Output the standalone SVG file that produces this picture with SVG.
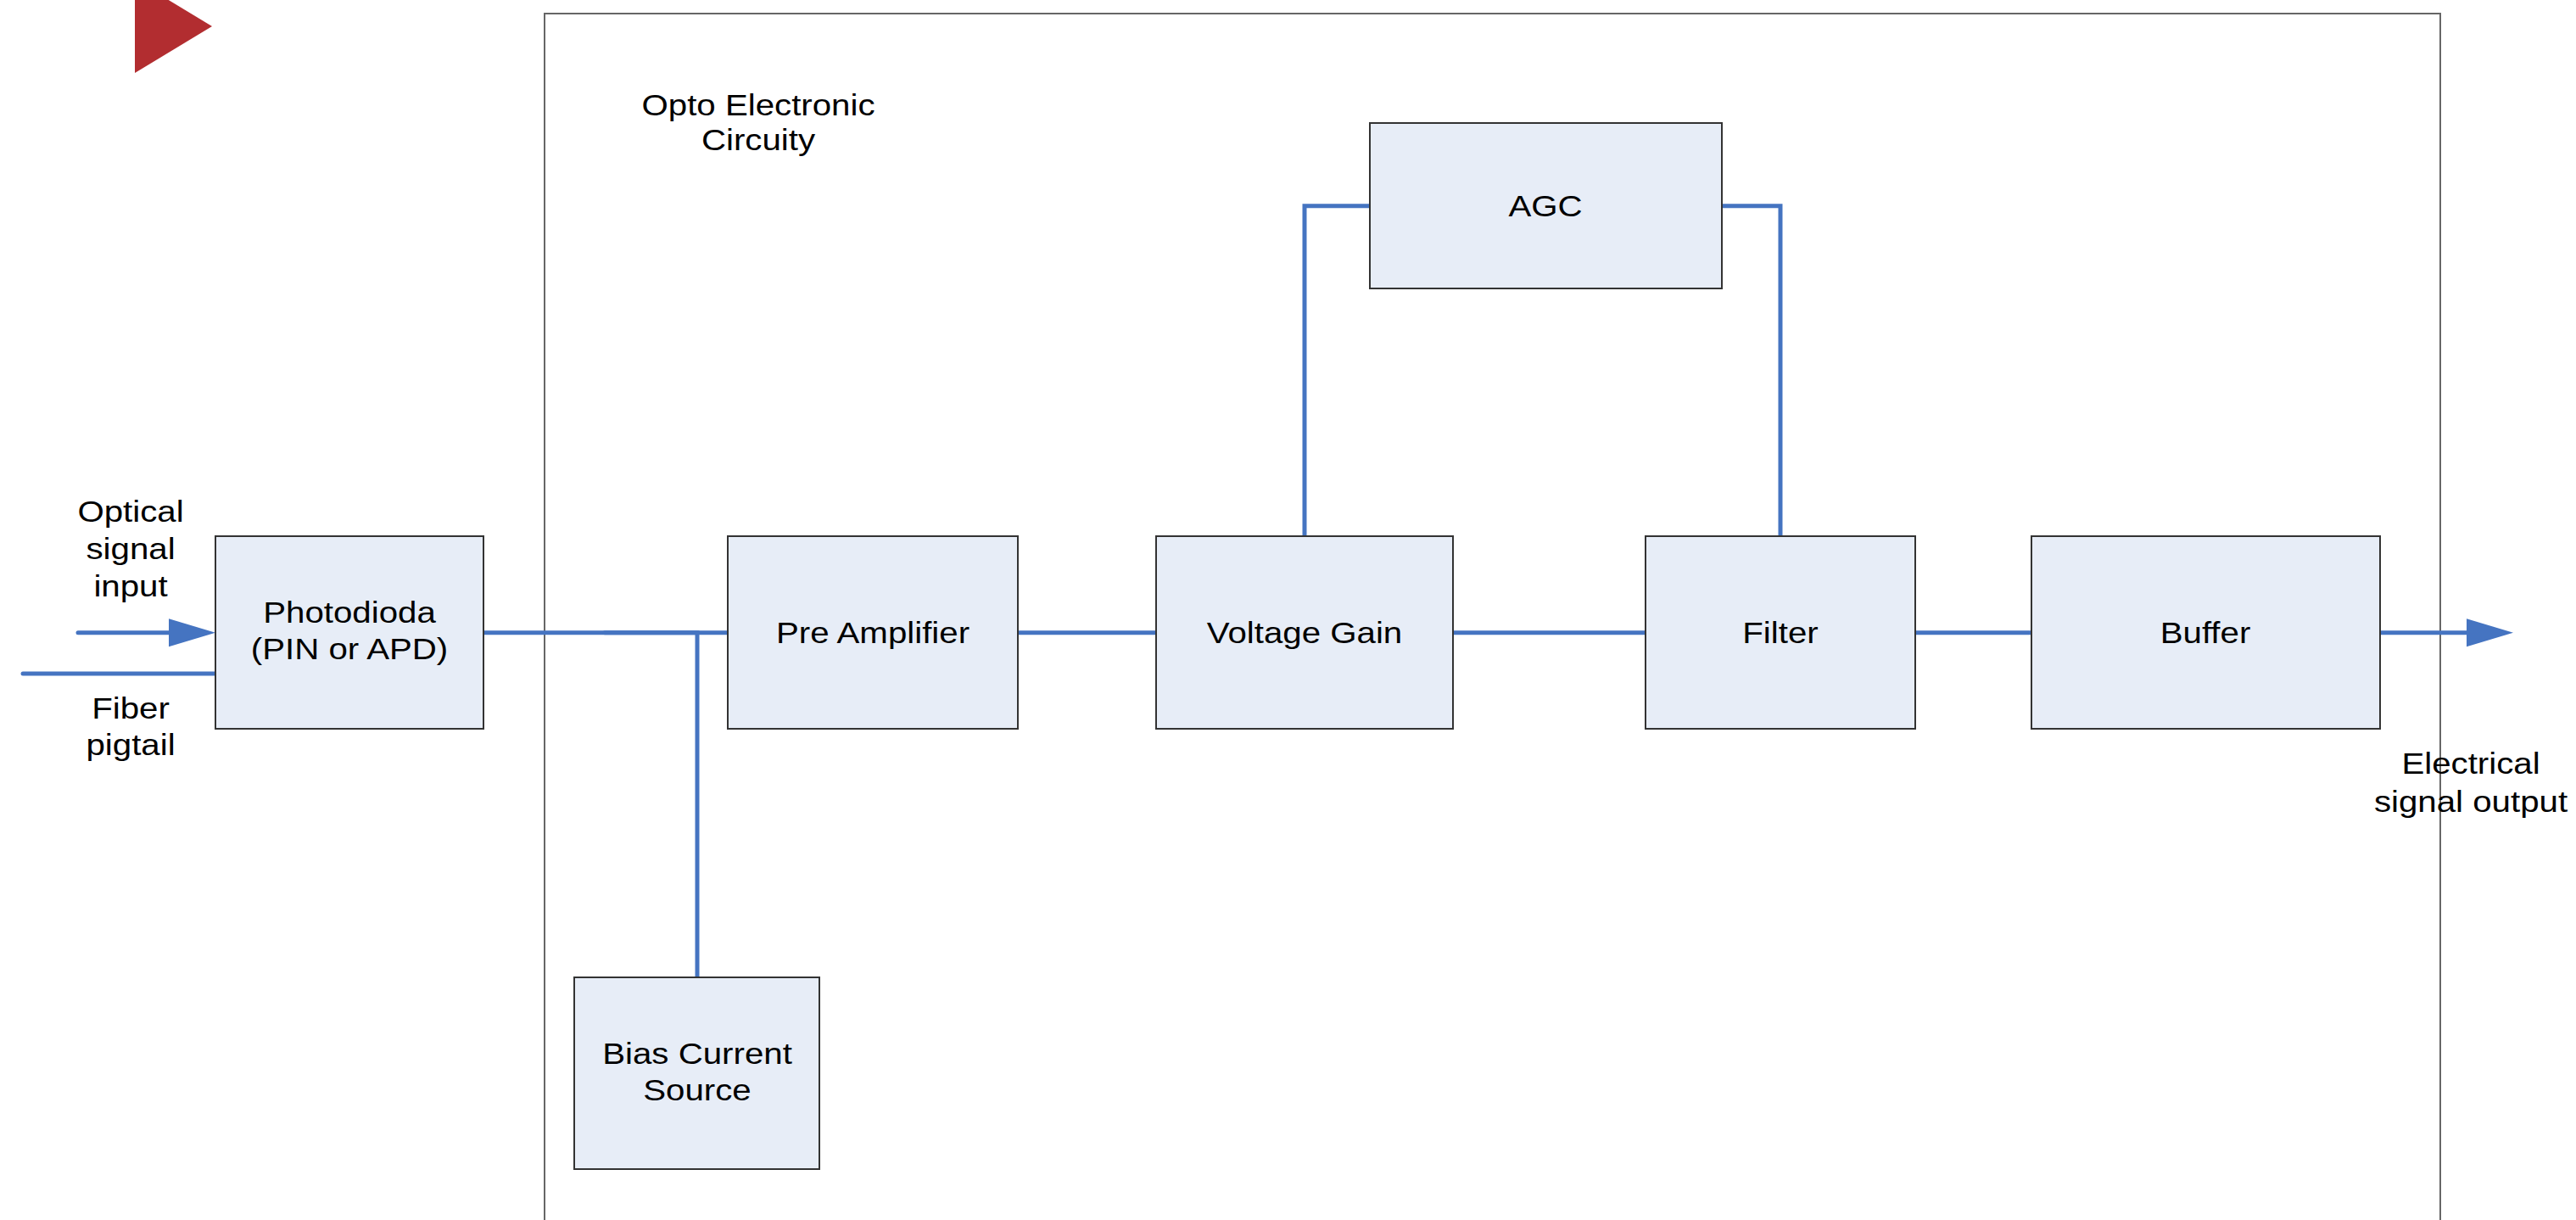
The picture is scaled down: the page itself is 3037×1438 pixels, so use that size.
<svg xmlns="http://www.w3.org/2000/svg" width="3037" height="1438" viewBox="0 0 3037 1438">
<style>
.box{fill:#E7EDF7;stroke:#333333;stroke-width:2}
.frame{fill:none;stroke:#666666;stroke-width:2}
.conn{fill:none;stroke:#4574C1;stroke-width:5;stroke-linecap:round;stroke-linejoin:miter}
.t{font-family:"Liberation Sans",Arial,sans-serif;font-size:35px;fill:#000000;text-anchor:middle}
</style>
<defs>
<marker id="arr" markerUnits="userSpaceOnUse" markerWidth="56" markerHeight="34" refX="2" refY="16.5" orient="auto" viewBox="0 0 56 34">
<path d="M0,0 L55,16.5 L0,33 Z" fill="#4574C1"/>
</marker>
</defs>
<rect x="0" y="0" width="3037" height="1438" fill="#FFFFFF"/>
<polygon points="159,-24 250,31 159,86" fill="#B22D30"/>
<g id="frame">
<rect class="frame" x="642" y="16" width="2235" height="1500"/>
<text class="t" transform="translate(894,136) scale(1.15,1)"><tspan x="0" y="0">Opto Electronic</tspan><tspan x="0" y="41">Circuity</tspan></text>
</g>
<g id="connectors">
<line class="conn" x1="92" y1="745.7" x2="201" y2="745.7" marker-end="url(#arr)"/>
<line class="conn" x1="27" y1="794" x2="257" y2="794"/>
<line class="conn" x1="570" y1="745.7" x2="858" y2="745.7"/>
<path class="conn" d="M713,745.7 H822 V1152"/>
<line class="conn" x1="1200" y1="745.7" x2="1363" y2="745.7"/>
<path class="conn" d="M1538,632 V242.7 H1615"/>
<path class="conn" d="M2030,242.7 H2099 V632"/>
<line class="conn" x1="1712" y1="745.7" x2="1940" y2="745.7"/>
<line class="conn" x1="2258" y1="745.7" x2="2395" y2="745.7"/>
<line class="conn" x1="2806" y1="745.7" x2="2910" y2="745.7" marker-end="url(#arr)"/>
</g>
<g id="label-optical-input">
<text class="t" transform="translate(154,615) scale(1.15,1)"><tspan x="0" y="0">Optical</tspan><tspan x="0" y="44">signal</tspan><tspan x="0" y="88">input</tspan></text>
</g>
<g id="label-fiber">
<text class="t" transform="translate(154,847) scale(1.15,1)"><tspan x="0" y="0">Fiber</tspan><tspan x="0" y="43">pigtail</tspan></text>
</g>
<g id="label-electrical-output">
<text class="t" transform="translate(2913,912) scale(1.15,1)"><tspan x="0" y="0">Electrical</tspan><tspan x="0" y="45">signal output</tspan></text>
</g>
<g id="photodioda">
<rect class="box" x="254" y="632" width="316" height="227"/>
<text class="t" transform="translate(412,734) scale(1.15,1)"><tspan x="0" y="0">Photodioda</tspan><tspan x="0" y="43">(PIN or APD)</tspan></text>
</g>
<g id="pre-amplifier">
<rect class="box" x="858" y="632" width="342" height="227"/>
<text class="t" transform="translate(1029,758) scale(1.15,1)">Pre Amplifier</text>
</g>
<g id="voltage-gain">
<rect class="box" x="1363" y="632" width="350" height="227"/>
<text class="t" transform="translate(1538,758) scale(1.15,1)">Voltage Gain</text>
</g>
<g id="agc">
<rect class="box" x="1615" y="145" width="415" height="195"/>
<text class="t" transform="translate(1822,255) scale(1.15,1)">AGC</text>
</g>
<g id="filter">
<rect class="box" x="1940" y="632" width="318" height="227"/>
<text class="t" transform="translate(2099,758) scale(1.15,1)">Filter</text>
</g>
<g id="buffer">
<rect class="box" x="2395" y="632" width="411" height="227"/>
<text class="t" transform="translate(2600,758) scale(1.15,1)">Buffer</text>
</g>
<g id="bias-current-source">
<rect class="box" x="677" y="1152" width="289" height="226"/>
<text class="t" transform="translate(822,1254) scale(1.15,1)"><tspan x="0" y="0">Bias Current</tspan><tspan x="0" y="43">Source</tspan></text>
</g>
</svg>
